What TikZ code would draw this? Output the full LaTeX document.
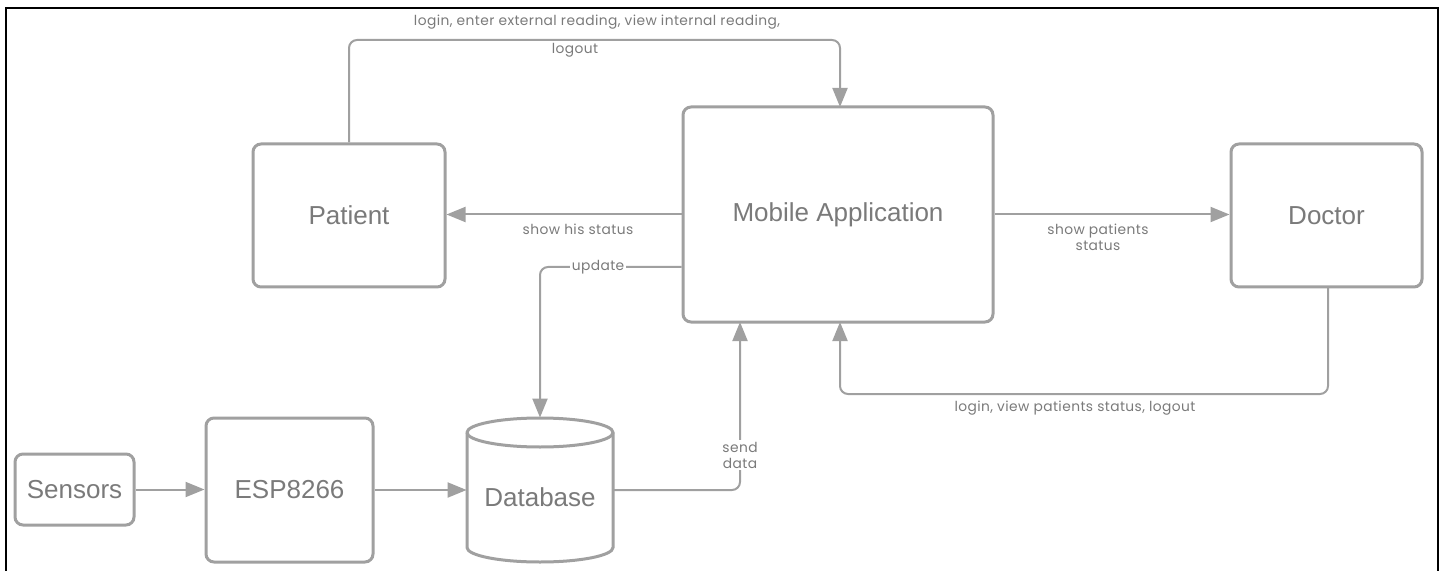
\documentclass[tikz,border=0pt]{standalone}
\usepackage{fontspec}
\setmainfont{Liberation Sans}
\newfontfamily\lblfont[LetterSpace=3]{Poppins}
\usetikzlibrary{arrows.meta,calc}
\definecolor{linegray}{HTML}{A0A0A0}
\definecolor{textgray}{HTML}{7A7A7A}
\tikzset{
  box/.style={draw=linegray, line width=1.5pt, rounded corners=4pt, fill=white,
    text=textgray, font=\fontsize{13}{15}\selectfont, inner sep=0pt},
  conn/.style={draw=linegray, line width=1pt, rounded corners=4pt,
    -{Triangle[length=9.5pt,width=7.5pt]}},
  lbl/.style={text=textgray, font=\lblfont\fontsize{6.9}{8}\selectfont, inner sep=1pt, align=center},
  lblw/.style={lbl, fill=white},
}
\begin{document}
\begin{tikzpicture}[x=0.5pt,y=-0.5pt]
\useasboundingbox (0,0) rectangle (1443,571);
% frame
\draw[black, line width=1pt] (6,575) -- (6,8) -- (1438,8) -- (1438,575);

% nodes
\node[box, minimum width=96pt, minimum height=71.5pt] (pat) at (349,215.5) {Patient};
\node[box, minimum width=155pt, minimum height=107.5pt] (mob) at (838,214.5) {Mobile Application};
\node[box, minimum width=95.5pt, minimum height=71.5pt] (doc) at (1326.5,215.5) {Doctor};
\node[box, minimum width=59.5pt, minimum height=35.5pt] (sen) at (74.5,489.5) {Sensors};
\node[box, minimum width=83.5pt, minimum height=72pt] (esp) at (289.5,490) {ESP8266};

% database cylinder
\node[minimum width=73pt, minimum height=72pt, inner sep=0pt] (db) at (540,490) {};
\draw[linegray, line width=1.5pt, fill=white]
  (467,432.5) -- (467,547.5) arc[start angle=180, end angle=360, x radius=36.5pt, y radius=7.25pt]
  -- (613,432.5) arc[start angle=0, end angle=180, x radius=36.5pt, y radius=7.25pt] -- cycle;
\draw[linegray, line width=1.5pt] (467,432.5) arc[start angle=180, end angle=360, x radius=36.5pt, y radius=7.25pt];
\node[text=textgray, font=\fontsize{13}{15}\selectfont] at (540,497) {Database};

% connectors
\draw[conn] (pat.north) -- (pat.north |- 0,40) -- (840,40) -- (840,107);
\node[lbl] (l1a) at (597,22) {login, enter external reading, view internal reading,};
\node[lbl] (l1b) at (575,50) {logout};

\draw[conn] (mob.west) -- (mob.west -| pat.east);
\node[lbl] (l2) at (578,229) {show his status};

\draw[conn] (mob.west |- 0,267) -- (540,267) -- (db.north);
\node[lblw] (l3) at (598,267) {update};

\draw[conn] (sen.east) -- (sen.east -| esp.west);
\draw[conn] (esp.east) -- (esp.east -| db.west);

\draw[conn] (db.east |- 0,490) -- (740,490) -- (740,322);
\node[lblw] (l4) at (740,455) {send\\data};

\draw[conn] (mob.east) -- (mob.east -| doc.west);
\node[lbl] (l5) at (1098,237) {show patients\\status};

\draw[conn] (1328,287) -- (1328,394) -- (840,394) -- (840,322);
\node[lbl] (l6) at (1075,408) {login, view patients status, logout};
\end{tikzpicture}
\end{document}
